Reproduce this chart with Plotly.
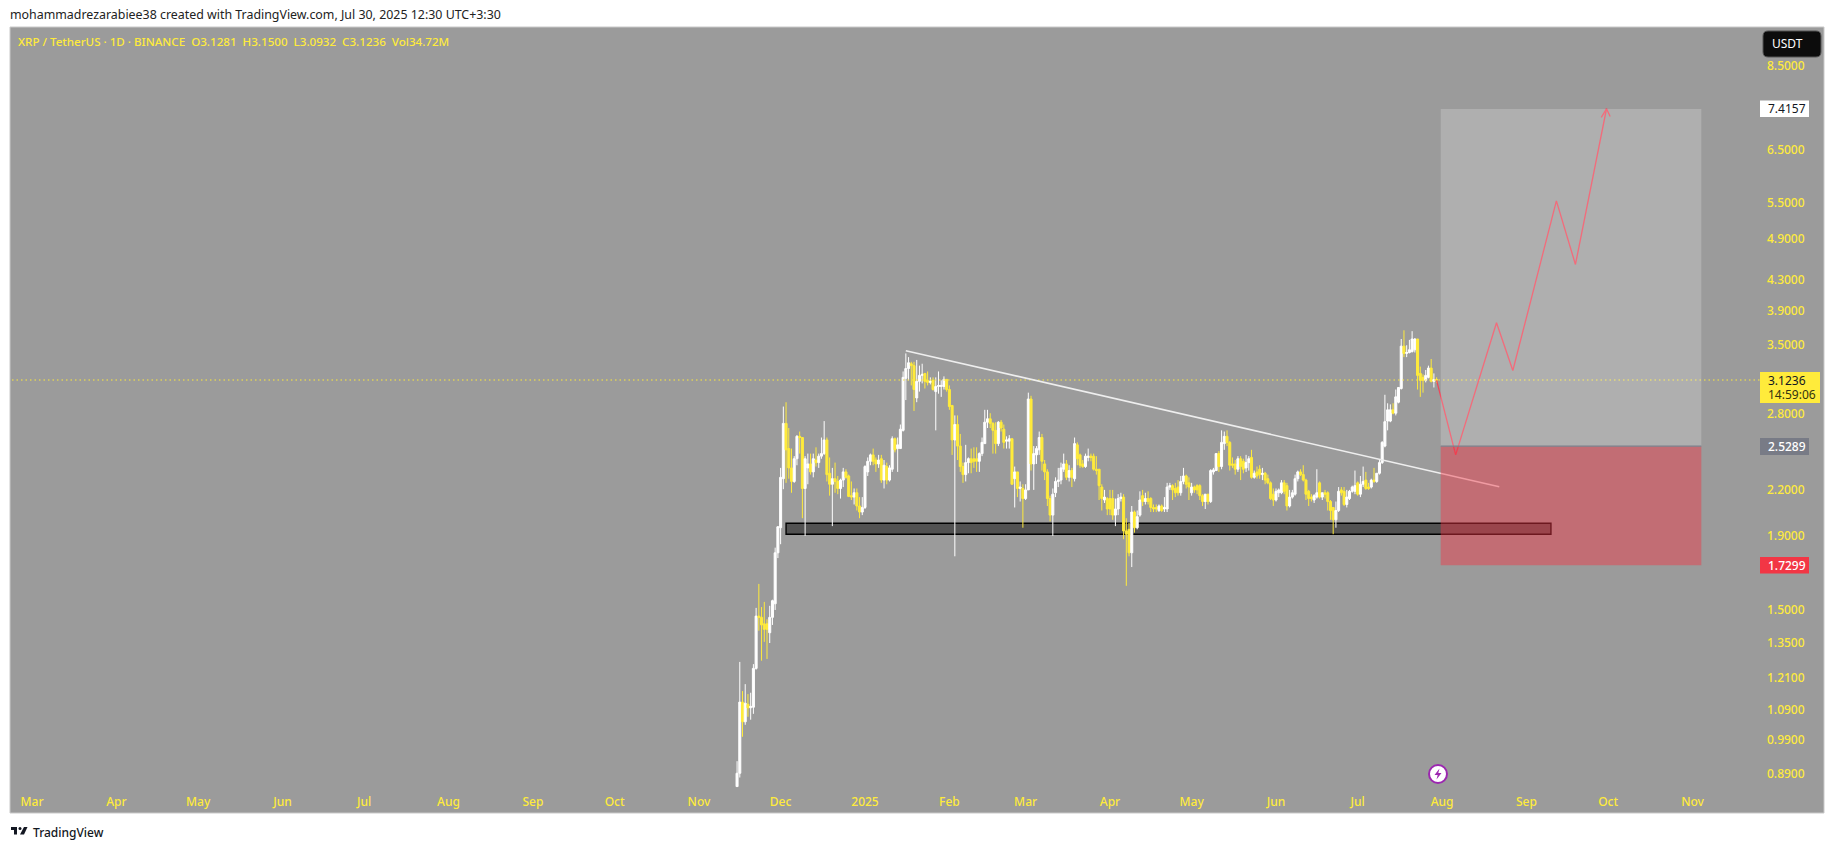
import math
import pandas as pd
import plotly.graph_objects as go

W, H = 1835, 850
PL, PR, PT, PB = 12, 1760, 27, 790   # plot box in page pixels
YEL = "#FFEB3B"
FONT = "Noto Sans"

first_day = "2024-11-15"
opens = [.854,.891,1.118,1.05,1.11,1.098,1.10,1.245,1.471,1.465,
 1.435,1.435,1.395,1.465,1.53,1.80,1.95,2.28,2.72,2.51,
 2.36,2.26,2.43,2.61,2.60,2.21,2.36,2.39,2.33,2.42,
 2.40,2.45,2.47,2.58,2.32,2.24,2.28,2.26,2.21,2.27,
 2.33,2.30,2.16,2.15,2.18,2.09,2.05,
 2.08,2.33,2.41,2.46,2.42,2.39,2.43,2.27,2.37,2.27,
 2.35,2.59,2.51,2.51,2.66,3.14,3.24,3.29,3.27,2.95,
 3.11,3.17,3.19,3.12,3.10,3.12,3.01,3.06,3.06,3.06,
 3.13,3.03,2.88,2.58,2.71,2.53,2.37,2.31,2.40,2.43,
 2.43,2.43,2.41,2.47,2.55,2.73,2.76,2.72,2.66,2.55,
 2.73,2.67,2.57,2.57,2.59,2.28,2.33,2.21,2.21,2.14,
 2.20,2.94,2.39,2.46,2.50,2.60,2.39,2.33,2.14,2.03,
 2.18,2.26,2.27,2.35,2.39,2.29,2.34,2.28,2.54,2.46,
 2.39,2.37,2.44,2.45,2.45,2.35,2.35,2.22,2.13,2.14,
 2.14,2.14,2.03,2.07,2.14,2.15,1.93,1.94,1.80,2.05,
 1.95,2.03,2.16,2.12,2.14,2.14,2.08,2.08,2.06,2.09,
 2.07,2.07,2.22,2.23,2.21,2.22,2.18,2.26,2.30,2.25,
 2.18,2.22,2.23,2.23,2.16,2.12,2.17,2.12,2.33,2.34,
 2.47,2.37,2.55,2.61,2.56,2.39,2.39,2.35,2.43,2.41,
 2.36,2.40,2.44,2.29,2.33,2.35,2.31,2.32,2.28,2.25,
 2.17,2.13,2.18,2.18,2.25,2.23,2.09,2.15,2.17,2.28,
 2.33,2.31,2.27,2.19,2.15,2.13,2.15,2.25,2.15,2.18,
 2.18,2.12,2.08,2.00,2.06,2.20,2.19,2.10,2.14,2.19,
 2.19,2.25,2.17,2.24,2.27,2.22,2.22,2.27,2.26,2.32,
 2.40,2.53,2.74,2.74,2.84,2.81,2.91,3.04,3.48,3.40,
 3.41,3.42,3.44,3.56,3.19,3.15,3.12,3.15,3.245,3.11,3.1281]
highs = [.926,1.271,1.158,1.184,1.147,1.152,1.262,1.51,1.63,1.514,
 1.539,1.456,1.52,1.55,1.83,1.96,2.36,2.87,2.91,2.68,
 2.51,2.45,2.62,2.65,2.60,2.45,2.47,2.47,2.47,2.52,
 2.47,2.60,2.74,2.60,2.44,2.36,2.40,2.30,2.28,2.36,
 2.35,2.31,2.26,2.21,2.21,2.15,2.15,
 2.38,2.44,2.47,2.51,2.44,2.46,2.46,2.42,2.40,2.38,
 2.61,2.60,2.60,2.71,3.21,3.40,3.36,3.31,3.31,3.33,
 3.27,3.29,3.19,3.21,3.15,3.15,3.15,3.21,3.12,3.16,
 3.13,3.07,2.88,2.79,2.79,2.63,2.40,2.54,2.44,2.51,
 2.52,2.52,2.48,2.60,2.84,2.84,2.81,2.73,2.73,2.74,
 2.75,2.71,2.61,2.62,2.59,2.37,2.33,2.26,2.24,2.24,
 3.00,2.97,2.53,2.53,2.65,2.63,2.42,2.35,2.16,2.21,
 2.29,2.36,2.40,2.47,2.42,2.38,2.36,2.60,2.56,2.47,
 2.42,2.47,2.51,2.47,2.47,2.45,2.35,2.24,2.20,2.15,
 2.20,2.20,2.14,2.17,2.18,2.17,2.01,1.98,2.09,2.06,
 2.06,2.19,2.20,2.18,2.19,2.15,2.10,2.10,2.10,2.10,
 2.15,2.25,2.25,2.24,2.25,2.27,2.30,2.36,2.31,2.29,
 2.25,2.23,2.24,2.24,2.17,2.17,2.17,2.35,2.36,2.47,
 2.49,2.66,2.65,2.66,2.57,2.44,2.42,2.45,2.45,2.43,
 2.46,2.45,2.50,2.34,2.37,2.38,2.36,2.33,2.31,2.26,
 2.21,2.21,2.21,2.27,2.27,2.25,2.20,2.20,2.31,2.34,
 2.35,2.38,2.28,2.20,2.17,2.17,2.35,2.26,2.18,2.20,
 2.19,2.13,2.08,2.12,2.22,2.22,2.22,2.20,2.20,2.23,
 2.34,2.26,2.30,2.37,2.33,2.25,2.28,2.36,2.32,2.42,
 2.57,2.98,2.90,2.89,2.90,3.03,3.05,3.56,3.66,3.49,
 3.55,3.65,3.57,3.56,3.26,3.18,3.225,3.27,3.34,3.19,3.15]
lows = [.854,.879,1.001,1.04,1.067,1.057,1.077,1.24,1.404,1.276,
 1.355,1.283,1.35,1.43,1.50,1.77,1.85,2.205,2.25,2.28,
 2.18,2.25,2.38,2.47,2.01,1.90,2.24,2.31,2.29,2.37,
 2.36,2.43,2.46,2.26,2.16,1.96,2.18,2.17,2.14,2.22,
 2.28,2.15,2.13,2.10,2.06,2.01,2.03,
 2.07,2.30,2.38,2.38,2.33,2.36,2.25,2.21,2.24,2.26,
 2.33,2.48,2.33,2.51,2.65,2.93,3.12,3.07,2.83,2.91,
 3.01,3.09,3.04,3.07,3.08,3.02,2.66,2.99,2.96,3.03,
 3.01,2.84,2.46,1.78,2.42,2.33,2.25,2.26,2.32,2.32,
 2.36,2.33,2.33,2.45,2.55,2.68,2.68,2.47,2.47,2.53,
 2.65,2.51,2.51,2.51,2.24,2.08,2.15,2.12,1.95,2.13,
 2.20,2.34,2.20,2.39,2.46,2.34,2.27,2.09,1.99,1.90,
 2.15,2.22,2.24,2.33,2.27,2.26,2.22,2.26,2.38,2.36,
 2.36,2.36,2.41,2.41,2.34,2.31,2.13,2.06,2.11,2.03,
 2.03,2.00,1.96,2.03,2.12,1.88,1.62,1.78,1.72,1.92,
 1.94,2.02,2.09,2.10,2.10,2.05,2.05,2.05,2.05,2.05,
 2.05,2.05,2.20,2.13,2.15,2.16,2.16,2.24,2.21,2.13,
 2.16,2.18,2.17,2.13,2.09,2.07,2.10,2.11,2.31,2.34,
 2.33,2.35,2.50,2.53,2.34,2.36,2.31,2.33,2.27,2.32,
 2.33,2.34,2.28,2.28,2.28,2.28,2.27,2.24,2.24,2.13,
 2.09,2.12,2.15,2.17,2.17,2.06,2.08,2.14,2.16,2.26,
 2.30,2.26,2.13,2.09,2.12,2.11,2.14,2.14,2.13,2.14,
 2.06,2.00,1.91,1.95,2.05,2.16,2.09,2.08,2.13,2.18,
 2.17,2.16,2.15,2.22,2.20,2.20,2.21,2.25,2.25,2.31,
 2.39,2.52,2.66,2.73,2.80,2.79,2.90,3.03,3.36,3.36,
 3.40,3.41,3.41,3.03,2.96,3.00,3.10,3.14,3.10,3.05,3.0932]
closes = [.891,1.118,1.05,1.114,1.098,1.103,1.245,1.471,1.465,1.43,
 1.41,1.41,1.465,1.545,1.80,1.956,2.29,2.72,2.50,2.36,
 2.26,2.43,2.61,2.60,2.21,2.43,2.39,2.33,2.43,2.40,
 2.45,2.47,2.58,2.31,2.24,2.28,2.26,2.21,2.27,2.33,
 2.29,2.155,2.15,2.18,2.09,2.05,2.08,
 2.37,2.41,2.46,2.41,2.39,2.42,2.27,2.38,2.27,2.36,
 2.59,2.50,2.54,2.67,3.15,3.24,3.30,3.27,3.03,3.11,
 3.17,3.18,3.11,3.10,3.11,3.03,3.06,3.07,3.07,3.13,
 3.03,2.87,2.58,2.71,2.53,2.37,2.31,2.40,2.43,2.40,
 2.41,2.41,2.47,2.56,2.73,2.76,2.72,2.66,2.55,2.73,
 2.68,2.56,2.58,2.59,2.24,2.33,2.21,2.22,2.14,2.20,
 2.94,2.39,2.47,2.51,2.60,2.41,2.33,2.14,2.03,2.17,
 2.26,2.27,2.36,2.39,2.29,2.34,2.29,2.55,2.43,2.38,
 2.37,2.45,2.45,2.44,2.35,2.34,2.23,2.14,2.15,2.07,
 2.07,2.03,2.07,2.14,2.15,1.93,1.91,1.80,2.05,1.95,
 2.02,2.13,2.12,2.14,2.12,2.08,2.07,2.07,2.09,2.06,
 2.08,2.22,2.23,2.20,2.18,2.18,2.26,2.30,2.24,2.22,
 2.22,2.20,2.20,2.16,2.12,2.17,2.12,2.34,2.345,2.47,
 2.37,2.56,2.61,2.56,2.38,2.38,2.35,2.43,2.37,2.35,
 2.40,2.43,2.29,2.32,2.30,2.31,2.32,2.27,2.25,2.14,
 2.13,2.19,2.20,2.25,2.19,2.09,2.15,2.18,2.28,2.33,
 2.31,2.27,2.17,2.14,2.14,2.16,2.18,2.15,2.18,2.17,
 2.12,2.06,2.00,2.06,2.19,2.18,2.10,2.15,2.19,2.22,
 2.23,2.17,2.24,2.26,2.21,2.21,2.27,2.26,2.32,2.40,
 2.56,2.735,2.84,2.84,2.81,2.96,3.05,3.48,3.40,3.41,
 3.44,3.56,3.56,3.17,3.12,3.12,3.17,3.245,3.11,3.128,3.1236]

price_ticks = [0.89,0.99,1.09,1.21,1.35,1.5,1.9,2.2,2.8,3.5,3.9,4.3,4.9,5.5,6.5,8.5]
month_ticks = ["2024-03-01","2024-04-01","2024-05-01","2024-06-01","2024-07-01","2024-08-01","2024-09-01",
 "2024-10-01","2024-11-01","2024-12-01","2025-01-01","2025-02-01","2025-03-01","2025-04-01","2025-05-01",
 "2025-06-01","2025-07-01","2025-08-01","2025-09-01","2025-10-01","2025-11-01"]
month_labels = ["Mar","Apr","May","Jun","Jul","Aug","Sep","Oct","Nov","Dec","2025","Feb","Mar","Apr","May",
 "Jun","Jul","Aug","Sep","Oct","Nov"]

last_price = 3.1236
entry_price, target_price, stop_price = 2.5289, 7.4157, 1.7299
position_dates = ["2025-07-31 12:00","2025-11-04 06:00"]
zone_dates = ["2024-12-03","2025-09-10"]
zone_prices = [1.91,1.978]
trend_dates = ["2025-01-16","2025-08-22"]
trend_prices = [3.43,2.222]
path_dates = ["2025-07-30","2025-08-06","2025-08-21","2025-08-27","2025-09-12","2025-09-19","2025-09-30 10:00"]
path_prices = [3.12,2.46,3.75,3.22,5.53,4.515,7.42]
head_dates = ["2025-09-28 12:00","2025-09-30 10:00","2025-10-01 18:00"]
head_prices = [7.22,7.42,7.24]

dates = pd.date_range(first_day, periods=len(opens), freq="D")
day0 = pd.Timestamp("2025-01-01")
PX_PER_DAY, X_DAY0 = 2.722, 865
PX_PER_DEC, Y_LAST = 721.9, 380
def date_at(x):
    return (day0 + pd.Timedelta(days=(x - X_DAY0) / PX_PER_DAY)).strftime("%Y-%m-%d %H:%M")
xr = [date_at(PL), date_at(PR)]
yr = [math.log10(last_price) - (PB - Y_LAST) / PX_PER_DEC, math.log10(last_price) + (Y_LAST - PT) / PX_PER_DEC]
def X(x): return (x - PL) / (PR - PL)
def Y(y): return (PB - y) / (PB - PT)

fig = go.Figure()
fig.add_trace(go.Candlestick(x=dates, open=opens, high=highs, low=lows, close=closes,
    increasing=dict(line=dict(color="#ffffff", width=1), fillcolor="#ffffff"),
    decreasing=dict(line=dict(color=YEL, width=1), fillcolor=YEL),
    whiskerwidth=0, showlegend=False, hoverinfo="skip"))
fig.add_trace(go.Scatter(x=xr, y=[last_price, last_price], mode="lines",
    line=dict(color=YEL, width=1.2, dash="1.5px 3px"), hoverinfo="skip"))
fig.add_trace(go.Scatter(x=trend_dates, y=trend_prices, mode="lines",
    line=dict(color="#eeeeee", width=1.6), hoverinfo="skip"))
fig.add_trace(go.Scatter(x=path_dates, y=path_prices, mode="lines",
    line=dict(color="#F0475A", width=1.3), hoverinfo="skip"))
fig.add_trace(go.Scatter(x=head_dates, y=head_prices, mode="lines",
    line=dict(color="#F0475A", width=1.3), hoverinfo="skip"))

shapes = []
def page_rect(x0, y0, x1, y1, fill, line=None, layer="above", lw=1):
    shapes.append(dict(type="rect", xref="paper", yref="paper", x0=X(x0), x1=X(x1), y0=Y(y1), y1=Y(y0),
        fillcolor=fill, line=dict(color=line or fill, width=lw if line else 0), layer=layer))
def page_path(points, fill):
    d = "M " + " L ".join(f"{X(a):.5f},{Y(b):.5f}" for a, b in points) + " Z"
    shapes.append(dict(type="path", xref="paper", yref="paper", path=d, fillcolor=fill,
        line=dict(color=fill, width=0), layer="above"))

# pane background
page_rect(10, 27, 1824, 813, "#9b9b9b", "#c9c9c9", layer="below", lw=1)
# demand zone under the candles
shapes.append(dict(type="rect", xref="x", yref="y", x0=zone_dates[0], x1=zone_dates[1], y0=zone_prices[0], y1=zone_prices[1],
    fillcolor="rgba(0,0,0,0.47)", line=dict(color="#000000", width=1.4), layer="below"))
# long position boxes over everything
shapes.append(dict(type="rect", xref="x", yref="y", x0=position_dates[0], x1=position_dates[1], y0=entry_price, y1=target_price,
    fillcolor="rgba(255,255,255,0.20)", line=dict(width=0), layer="above"))
shapes.append(dict(type="rect", xref="x", yref="y", x0=position_dates[0], x1=position_dates[1], y0=stop_price, y1=entry_price,
    fillcolor="rgba(242,54,69,0.45)", line=dict(width=0), layer="above"))
shapes.append(dict(type="line", xref="x", yref="y", x0=position_dates[0], x1=position_dates[1], y0=entry_price, y1=entry_price,
    line=dict(color="#7d808c", width=1.2), layer="above"))

# right-hand price badges
page_rect(1760, 100.4, 1809, 117, "#ffffff")
page_rect(1760, 372, 1820, 403, YEL)
page_rect(1760, 438, 1809, 455, "#787b86")
page_rect(1760, 557, 1809, 573.6, "#F23645")
# USDT button
bx0, bx1, by0, by1, r = 1763, 1821, 31, 57, 5
d = (f"M {X(bx0+r):.5f},{Y(by0):.5f} L {X(bx1-r):.5f},{Y(by0):.5f} Q {X(bx1):.5f},{Y(by0):.5f} {X(bx1):.5f},{Y(by0+r):.5f} "
     f"L {X(bx1):.5f},{Y(by1-r):.5f} Q {X(bx1):.5f},{Y(by1):.5f} {X(bx1-r):.5f},{Y(by1):.5f} "
     f"L {X(bx0+r):.5f},{Y(by1):.5f} Q {X(bx0):.5f},{Y(by1):.5f} {X(bx0):.5f},{Y(by1-r):.5f} "
     f"L {X(bx0):.5f},{Y(by0+r):.5f} Q {X(bx0):.5f},{Y(by0):.5f} {X(bx0+r):.5f},{Y(by0):.5f} Z")
shapes.append(dict(type="path", xref="paper", yref="paper", path=d, fillcolor="#0c0c0c",
    line=dict(color="#555555", width=1), layer="above"))
# bolt badge
shapes.append(dict(type="circle", xref="paper", yref="paper", x0=X(1429), x1=X(1447), y0=Y(783), y1=Y(765),
    fillcolor="#ffffff", line=dict(color="#9c27b0", width=2), layer="above"))
page_path([(1439.5,768.5),(1434.5,775),(1437.7,775),(1436.5,779.5),(1441.5,773),(1438.3,773)], "#9c27b0")
# TradingView logo
ox, oy, s = 10, 824, 0.5
page_path([(ox+s*a, oy+s*b) for a, b in [(14,6),(2,6),(2,12),(8,12),(8,21),(14,21)]], "#131722")
shapes.append(dict(type="circle", xref="paper", yref="paper", x0=X(ox+s*17), x1=X(ox+s*23), y0=Y(oy+s*12), y1=Y(oy+s*6),
    fillcolor="#131722", line=dict(width=0), layer="above"))
page_path([(ox+s*a, oy+s*b) for a, b in [(28,6),(35,6),(28,21),(20,21)]], "#131722")

anns = []
def text(x, y, s, size=12, color="#131722", anchor="left", weight=None):
    anns.append(dict(xref="paper", yref="paper", x=X(x), y=Y(y), text=s, showarrow=False, xanchor=anchor,
        yanchor="middle", font=dict(family=FONT, size=size, color=color, weight=weight or 400), borderpad=0, borderwidth=0))
text(10, 15, "mohammadrezarabiee38 created with TradingView.com, Jul 30, 2025 12:30 UTC+3:30", 12.4, "#222222")
text(18, 41, "XRP / TetherUS · 1D · BINANCE  O3.1281  H3.1500  L3.0932  C3.1236  Vol34.72M", 11.6, YEL, weight=500)
text(33, 832, "TradingView", 12, "#131722", weight=500)
text(1772, 44, "USDT", 12, "#ffffff")
text(1768, 108.5, "7.4157", 12, "#131722")
text(1768, 380, "3.1236", 12, "#131722")
text(1768, 394, "14:59:06", 12, "#333311")
text(1768, 446.5, "2.5289", 12, "#ffffff", weight=500)
text(1768, 565, "1.7299", 12, "#ffffff", weight=500)

fig.update_layout(
    width=W, height=H, autosize=False, showlegend=False,
    margin=dict(l=PL, r=W - PR, t=PT, b=H - PB, pad=0),
    paper_bgcolor="#ffffff", plot_bgcolor="rgba(0,0,0,0)",
    boxgap=0.26, boxgroupgap=0, shapes=shapes, annotations=anns, hovermode=False,
    xaxis=dict(type="date", range=xr, rangeslider=dict(visible=False), showgrid=False, zeroline=False,
        showline=False, ticks="", tickmode="array", tickvals=month_ticks, ticktext=month_labels, tickangle=0,
        ticklabelstandoff=3, tickfont=dict(family=FONT, size=12, color=YEL, weight=500)),
    yaxis=dict(type="log", range=yr, side="right", showgrid=False, zeroline=False, showline=False, ticks="",
        tickmode="array", tickvals=price_ticks, ticktext=[f"{v:.4f}" for v in price_ticks], ticklabelstandoff=6,
        tickfont=dict(family=FONT, size=12, color=YEL, weight=500)),
)
fig.write_html("out.html", config=dict(displayModeBar=False),
    post_script="document.body.style.margin='0';document.documentElement.style.overflow='hidden';")
